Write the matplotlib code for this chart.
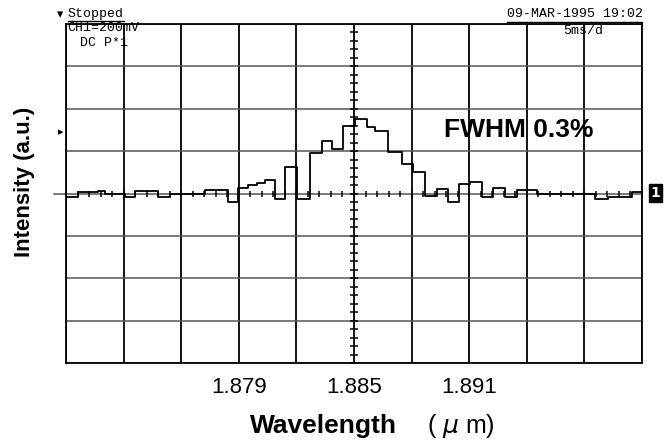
import numpy as np
import matplotlib.pyplot as plt
from matplotlib.lines import Line2D

# scope trace: start of each step (um) and level (divisions)
wavelength = [1.87005, 1.87063, 1.87167, 1.87203, 1.87307, 1.87359, 1.87479, 1.87542,
              1.87724, 1.87844, 1.87896, 1.87948, 1.87995, 1.88036, 1.88089, 1.88141,
              1.88203, 1.88271, 1.88333, 1.88385, 1.88443, 1.88505, 1.88568, 1.88609,
              1.88677, 1.88750, 1.88807, 1.88870, 1.88932, 1.88990, 1.89047, 1.89104,
              1.89167, 1.89224, 1.89286, 1.89349, 1.89453, 1.89755, 1.89823, 1.89948,
              1.90000]
intensity = [-0.09, 0.03, 0.07, 0.0, -0.09, 0.07, -0.09, -0.01,
             0.09, -0.2, 0.13, 0.2, 0.26, 0.32, -0.12, 0.62,
             -0.14, 0.95, 1.25, 1.05, 1.6, 1.76, 1.56, 1.47,
             0.97, 0.7, 0.5, -0.07, 0.1, -0.2, 0.22, 0.27,
             -0.09, 0.13, -0.09, 0.08, -0.02, -0.13, -0.08, 0.04,
             0.04]

tick_pos = [1.879, 1.885, 1.891]
tick_labels = ['1.879', '1.885', '1.891']
x_min, x_max, x_div = 1.870, 1.900, 0.003
y_min, y_max = -4, 4

fig = plt.figure(figsize=(6.7, 4.44), dpi=100)
ax = fig.add_axes([0.0985, 0.1824, 0.8597, 0.7635])

# graticule
xgrid = np.arange(x_min, x_max + x_div / 2, x_div)
for xv in xgrid:
    ax.axvline(xv, color='black', lw=1.3, zorder=1)
for yv in range(y_min, y_max + 1):
    ax.axhline(yv, color='#555555', lw=1.1, zorder=1)
ax.plot([x_min - 0.0006, x_min], [0, 0], color='#555555', lw=1.1, clip_on=False)

# small ticks on the centre lines
cx = 1.885
hx = np.arange(x_min, x_max + 1e-9, x_div / 5)
ax.plot(hx, np.zeros_like(hx), ls='none', marker='|', ms=5, mew=1.1, color='black', zorder=2)
vy = np.arange(y_min, y_max + 1e-9, 0.2)
ax.plot(np.full_like(vy, cx), vy, ls='none', marker='_', ms=6, mew=1.1, color='black', zorder=2)

ax.step(wavelength, intensity, where='post', color='black', lw=1.3, zorder=3)

ax.set_xlim(x_min, x_max)
ax.set_ylim(y_min, y_max)
ax.set_xticks(tick_pos)
ax.set_xticklabels(tick_labels, fontsize=16, family='Liberation Sans')
ax.set_yticks([])
ax.tick_params(axis='x', length=0, pad=10)
for s in ax.spines.values():
    s.set_color('black')
    s.set_linewidth(1.3)

fig.text(0.373, 0.025, 'Wavelength', fontsize=19, fontweight='bold',
         family='Liberation Sans', ha='left', va='baseline')
fig.text(0.637, 0.025, r'( $\mu$ m)', fontsize=18, family='Liberation Sans',
         ha='left', va='baseline')
fig.text(0.036, 0.59, 'Intensity (a.u.)', fontsize=16, fontweight='bold', rotation=90,
         family='Liberation Sans', ha='center', va='center')

ax.text(1.89359, 1.49, 'FWHM 0.3%', fontsize=19, fontweight='bold',
        family='Liberation Sans', ha='center', va='center', zorder=4)

# oscilloscope screen annotations
mono = 'Liberation Mono'
fig.text(0.085, 0.968, '\u25be', fontsize=9, ha='left', va='center')
fig.text(0.101, 0.968, 'Stopped', fontsize=9.5, family=mono, ha='left', va='center')
fig.add_artist(Line2D([0.101, 0.185], [0.953, 0.953], color='black', lw=1))
fig.text(0.959, 0.968, '09-MAR-1995 19:02', fontsize=9.5, family=mono, ha='right', va='center')
fig.add_artist(Line2D([0.756, 0.958], [0.951, 0.951], color='black', lw=1))
fig.text(0.100, 0.937, 'CH1=200mV', fontsize=9.5, family=mono, ha='left', va='center')
fig.text(0.119, 0.903, 'DC P*1', fontsize=9.5, family=mono, ha='left', va='center')
fig.text(0.840, 0.930, '5ms/d', fontsize=9.5, family=mono, ha='left', va='center')
fig.text(0.086, 0.702, '\u25b8', fontsize=8, ha='left', va='center')
fig.text(0.978, 0.565, '1', fontsize=10, fontweight='bold', color='white', ha='center',
         va='center', bbox=dict(boxstyle='square,pad=0.12', fc='black', ec='black'))

fig.savefig('out.png', dpi=100, facecolor='white')
